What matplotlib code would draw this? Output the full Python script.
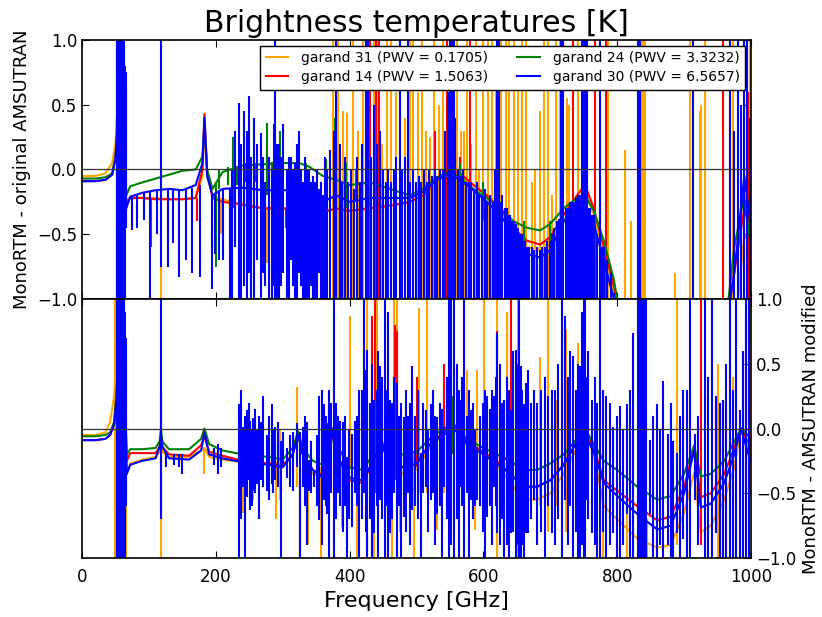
import matplotlib
matplotlib.use('Agg')
import matplotlib.pyplot as plt

# noms et couleurs des profils
labels = ['garand 31 (PWV = 0.1705)', 'garand 14 (PWV = 1.5063)',
          'garand 24 (PWV = 3.3232)', 'garand 30 (PWV = 6.5657)']
colors = ['#FFA500', '#FF0000', '#008000', '#0000FF']

# ---- panneau du haut : MonoRTM - original AMSUTRAN ----
top_f = [0, 20, 35, 45, 50, 54, 57, 66, 72, 90, 110, 130, 150, 170, 180, 183, 187, 195, 210, 240,
         270, 300, 325, 340, 360, 380, 400, 430, 460, 490, 510, 530, 550, 565, 585, 605, 625, 645,
         665, 685, 700, 720, 740, 752, 765, 780, 795, 810, 960, 975, 990, 1000]
top_orange = [-0.05, -0.05, -0.03, 0.05, 0.2, 0.6, 1.3, -0.3, -0.21, -0.22, -0.22, -0.23, -0.23, -0.22,
              -0.05, 0.35, -0.05, -0.2, -0.23, -0.27, -0.3, -0.3, -0.3, -0.32, -0.33, -0.3, -0.32, -0.3,
              -0.28, -0.25, -0.2, -0.08, 0.0, -0.03, -0.12, -0.2, -0.3, -0.5, -0.6, -0.62, -0.55, -0.4,
              -0.25, -0.15, -0.35, -0.65, -0.95, -1.3, -1.3, -1.3, -0.5, -0.6]
top_red = [-0.09, -0.09, -0.08, -0.04, 0.1, 0.45, 1.3, -0.25, -0.22, -0.22, -0.23, -0.23, -0.23, -0.22,
           0.0, 0.43, 0.0, -0.22, -0.25, -0.27, -0.3, -0.3, -0.3, -0.32, -0.33, -0.3, -0.32, -0.3,
           -0.28, -0.25, -0.2, -0.08, 0.0, -0.03, -0.12, -0.2, -0.3, -0.45, -0.55, -0.58, -0.52, -0.35,
           -0.2, -0.12, -0.3, -0.6, -0.9, -1.3, -1.3, -0.8, -0.3, -0.5]
top_green = [-0.07, -0.07, -0.06, -0.03, 0.1, 0.4, 1.3, -0.2, -0.13, -0.1, -0.07, -0.04, -0.01, 0.0,
             0.1, 0.35, 0.0, -0.15, -0.02, 0.03, 0.04, 0.05, 0.05, 0.02, -0.05, -0.08, -0.12, -0.1,
             -0.15, -0.2, -0.15, -0.06, -0.02, -0.06, -0.15, -0.22, -0.3, -0.4, -0.45, -0.47, -0.42,
             -0.3, -0.22, -0.2, -0.32, -0.55, -0.85, -1.3, -1.3, -0.6, -0.2, -0.6]
top_blue = [-0.09, -0.09, -0.08, -0.04, 0.08, 0.4, 1.3, -0.3, -0.21, -0.18, -0.16, -0.15, -0.16, -0.12,
            0.05, 0.4, -0.05, -0.2, -0.15, -0.14, -0.16, -0.16, -0.16, -0.2, -0.25, -0.2, -0.25, -0.22,
            -0.22, -0.22, -0.17, -0.08, -0.04, -0.08, -0.16, -0.25, -0.35, -0.5, -0.65, -0.68, -0.62,
            -0.4, -0.3, -0.28, -0.42, -0.7, -1.0, -1.3, -1.3, -0.8, -0.05, -0.45]

# raies (frequence, bas, haut)
top_orange_lines = [(52, -1.3, 1.3), (54, -1.3, 1.3), (56, -1.3, 1.3), (118, -1.3, 1.3),
    (207, -0.5, -0.23), (270, -0.72, -0.3), (276, -0.72, -0.3),
    (375, -1.3, 1.3), (383, -1.3, 1.3), (390, -1.3, 0.45), (396, -1.3, 0.44), (405, -1.3, 1.3),
    (412, -1.3, 0.3), (420, -1.3, 1.3), (428, -1.3, 1.3), (436, -1.3, 1.3), (441, -1.3, 1.3),
    (449, -1.3, 0.2), (456, -1.3, 1.3), (462, -1.3, 1.3), (470, -1.3, 0.6), (476, -1.3, 1.3),
    (483, -1.3, 0.4), (490, -1.3, 1.3), (495, -1.3, 1.3), (502, -1.3, 0.6), (508, -1.3, 1.3),
    (514, -1.3, 0.3), (520, -1.3, 0.25), (526, -1.3, 1.3), (533, -1.3, 0.5), (540, -1.3, 1.3),
    (546, -1.3, 1.3), (560, -1.3, 1.3), (566, -1.3, 0.3), (571, -1.3, 0.3), (576, -1.3, 1.3),
    (582, -1.3, 0.2), (589, -1.3, 1.3), (594, -1.3, 0.0), (600, -1.3, 1.3), (607, -1.3, 1.3),
    (613, -1.3, 1.3), (619, -1.3, 0.6), (627, -1.3, 1.3), (634, -1.3, 1.3), (638, -1.3, 1.3),
    (645, -1.3, 1.3), (651, -1.3, 0.7), (657, -1.3, 1.3), (664, -1.3, 1.3), (672, -1.3, -0.1),
    (677, -1.3, 0.0), (684, -1.3, 0.45), (690, -1.3, 1.3), (697, -1.3, 1.3), (702, -1.3, -0.2),
    (709, -1.3, 1.3), (715, -1.3, 1.3), (725, -1.3, 0.55), (728, -1.3, 0.5), (734, -1.3, 1.3),
    (742, -1.3, 1.3), (767, -1.3, 1.3), (787, -1.3, 1.3), (812, -1.3, 0.15), (820, -1.3, -0.4),
    (836, -1.3, 1.3), (838, -1.3, 1.3), (840, -1.3, 1.3), (842, -1.3, 1.3), (886, -1.3, -0.8),
    (909, -1.3, 1.3), (924, -1.3, 0.45), (926, -1.3, 0.5), (931, -1.3, 1.3), (958, -1.3, 1.3),
    (973, -1.3, 1.3), (999, -1.3, 1.3)]
top_red_lines = [(74, -0.45, -0.22), (103, -0.6, -0.22), (128, -0.5, -0.23), (172, -0.4, -0.22),
    (228, -0.55, -0.25), (305, -0.45, -0.3), (350, -0.5, -0.32), (430, -1.3, 1.3), (440, -1.3, 1.3),
    (444, -1.3, 1.3), (528, -1.3, 0.3), (546, -1.3, 1.3), (550, -1.3, 1.3), (565, -1.3, 0.1),
    (580, -1.3, 1.3), (717, -1.3, 1.3), (734, -1.3, 1.3), (767, -1.3, 1.3), (784, -1.3, 1.3),
    (958, -1.3, 1.3), (968, -1.3, 1.3), (995, -1.3, 0.6)]
top_green_lines = [(200, -0.75, -0.1), (205, -0.15, 0.0), (218, -0.12, 0.02), (226, -0.3, 0.25),
    (232, -0.12, 0.03), (245, -0.1, 0.05), (258, -0.1, 0.05), (271, -0.1, 0.06), (276, -0.2, 0.36),
    (284, -0.1, 0.06), (296, -0.1, 0.3), (311, -0.12, 0.07), (325, -0.15, 0.05), (335, -0.12, 0.05),
    (365, -0.2, 0.08), (378, -0.3, 0.4), (395, -0.3, 0.05), (410, -0.25, 0.0), (553, -0.2, 0.2),
    (565, -0.15, 0.05), (600, -0.4, -0.1), (660, -0.6, -0.4), (700, -0.6, -0.4)]
top_blue_lines = [(52, -1.3, 1.3), (53, -1.3, 1.3), (55, -1.3, 1.3), (56, -1.3, 1.3), (57, -1.3, 1.3),
    (58, -1.3, 1.3), (59, -1.3, 1.3), (60, -1.3, 1.3), (61, -1.3, 1.3), (62, -1.3, 1.3),
    (63, -1.3, 0.95), (64, -1.3, 0.8), (65, -0.45, 0.75), (66, -0.45, 0.6),
    (74, -0.47, -0.2), (82, -0.45, -0.19), (92, -0.39, -0.18), (102, -1.3, -0.17), (112, -0.5, -0.16),
    (118, -0.75, 1.3), (128, -0.75, -0.15), (136, -0.57, -0.15), (145, -0.83, -0.15), (155, -0.7, -0.15),
    (165, -0.8, -0.14), (176, -0.83, -0.12), (194, -0.92, -0.2), (199, -0.65, -0.18), (204, -0.7, -0.17),
    (210, -0.7, -0.16), (221, -1.3, -0.15), (224, -1.3, 0.0), (228, -0.6, 0.3), (234, -1.3, 0.51),
    (238, -1.3, 0.2), (242, -0.9, 0.45), (247, -1.3, 0.3), (250, -0.8, 0.57), (253, -1.1, 0.1),
    (257, -1.3, 0.4), (262, -0.7, 0.2), (267, -1.3, 0.28), (270, -0.8, 0.1), (273, -0.9, -0.1),
    (280, -1.3, 0.1), (284, -1.3, 0.0), (287, -0.9, 0.35), (289, -1.3, 1.3), (291, -1.0, 0.2),
    (295, -1.3, 0.2), (298, -0.9, 0.1), (301, -0.8, 0.35), (306, -1.3, 0.0), (309, -1.3, 0.1),
    (313, -0.7, 0.1), (316, -0.9, 0.0), (318, -1.3, 0.05), (321, -1.3, 0.2), (325, -0.8, 0.3),
    (328, -0.9, 0.0), (330, -1.3, -0.1), (333, -1.0, 0.1), (336, -1.3, 0.0), (339, -1.3, 0.0),
    (342, -0.9, -0.1), (345, -1.3, -0.05), (348, -1.3, -0.1), (351, -1.3, 0.0), (354, -0.8, -0.15),
    (357, -1.0, -0.1), (360, -1.3, -0.2), (363, -1.3, 0.1), (366, -1.3, 0.0), (371, -1.3, 0.15),
    (376, -1.3, 0.3), (380, -1.3, 1.3),
    (385, -1.3, 0.2), (389, -1.3, -0.1), (393, -1.3, 0.1), (398, -1.3, -0.1), (402, -1.3, 0.0),
    (406, -1.3, -0.15), (411, -1.3, 0.1), (415, -1.3, -0.1), (419, -1.3, 0.2), (424, -1.3, 1.3),
    (428, -1.3, 1.3), (432, -1.3, 0.1), (437, -1.3, 0.5), (441, -1.3, 0.2), (446, -1.3, 0.3),
    (450, -1.3, 0.0), (454, -1.3, -0.1), (458, -1.3, 0.0), (462, -1.3, -0.1), (466, -1.3, 0.0),
    (470, -1.3, 0.1), (475, -1.3, 1.3), (479, -1.3, 0.0), (483, -1.3, 0.1), (487, -1.3, 1.3),
    (491, -1.3, -0.1), (495, -1.3, 0.0), (499, -1.3, -0.1), (503, -1.3, -0.05), (507, -1.3, -0.1),
    (511, -1.3, 0.0), (515, -1.3, -0.1), (519, -1.3, 0.0), (523, -1.3, -0.05), (527, -1.3, 0.0),
    (531, -1.3, -0.05), (535, -1.3, 0.0), (539, -1.3, 0.0), (543, -1.3, 0.3), (547, -1.3, 0.6),
    (550, -1.3, 1.3), (552, -1.3, 1.3), (554, -1.3, 1.3), (556, -1.3, 1.3), (558, -1.3, 0.4),
    (562, -1.3, 0.0), (566, -1.3, -0.05), (570, -1.3, 0.0), (574, -1.3, -0.1), (578, -1.3, -0.1),
    (582, -1.3, -0.1), (586, -1.3, -0.15), (590, -1.3, -0.1), (594, -1.3, -0.2), (598, -1.3, -0.2),
    (602, -1.3, -0.15), (606, -1.3, -0.25), (610, -1.3, -0.2), (614, -1.3, -0.25), (618, -1.3, 0.0),
    (621, -1.3, 1.3), (624, -1.3, 1.3), (626, -1.3, -0.25), (628, -1.3, -0.2), (632, -1.3, -0.3),
    (634, -1.3, -0.32), (636, -1.3, -0.3), (638, -1.3, -0.35), (640, -1.3, -0.35), (643, -1.3, -0.4),
    (645, -1.3, -0.4), (648, -1.3, -0.42), (650, -1.3, -0.45), (652, -1.3, -0.45), (655, -1.3, -0.5),
    (658, -1.3, -0.5), (660, -1.3, -0.55), (662, -1.3, -0.55), (665, -1.3, -0.6), (668, -1.3, -0.6),
    (672, -1.3, -0.6), (676, -1.3, -0.62), (680, -1.3, -0.6), (684, -1.3, -0.62), (688, -1.3, -0.6),
    (692, -1.3, -0.6), (695, -1.3, -0.55), (699, -1.3, -0.55), (703, -1.3, -0.5), (706, -1.3, -0.45),
    (710, -1.3, -0.4), (713, -1.3, -0.38), (716, -1.3, 1.3), (719, -1.3, 1.3), (724, -1.3, -0.3),
    (727, -1.3, -0.3), (730, -1.3, -0.25), (733, -1.3, -0.25), (736, -1.3, -0.25), (739, -1.3, -0.22),
    (742, -1.3, -0.2), (745, -1.3, -0.2), (747, -1.3, 1.3), (749, -1.3, 1.3), (751, -1.3, 1.3),
    (753, -1.3, 1.3), (755, -1.3, 1.3), (757, -1.3, -0.3), (760, -1.3, -0.3), (763, -1.3, -0.35),
    (766, -1.3, -0.35), (770, -1.3, -0.5), (774, -1.3, 1.3), (777, -1.3, -0.6), (780, -1.3, -0.6),
    (785, -1.3, -0.7), (790, -1.3, -0.8), (795, -1.3, -0.95), (831, -1.3, 1.3), (834, -1.3, 1.3),
    (913, -1.3, 1.3), (969, -1.3, 1.3), (975, -1.3, 0.3), (980, -1.3, 1.3), (985, -1.3, 0.5),
    (990, -1.3, 1.3), (994, -1.3, 1.3), (998, -1.3, 0.4)]

# ---- panneau du bas : MonoRTM - AMSUTRAN modified ----
bot_f = [0, 20, 35, 42, 48, 52, 56, 67, 72, 90, 110, 116, 118, 120, 130, 160, 178, 183, 190, 210,
         240, 280, 300, 315, 323, 330, 345, 360, 370, 375, 380, 400, 420, 435, 448, 460, 480, 500, 520,
         540, 556, 575, 600, 620, 640, 660, 680, 700, 720, 740, 752, 765, 780, 800, 830, 860, 880, 900,
         915, 925, 940, 960, 975, 985, 995, 1000]
bot_orange = [-0.05, -0.05, -0.03, 0.05, 0.25, 0.6, 1.3, -0.35, -0.27, -0.24, -0.22, -0.18, -0.1, -0.18,
              -0.22, -0.22, -0.17, -0.15, -0.22, -0.24, -0.26, -0.27, -0.28, -0.2, -0.05, -0.2, -0.35,
              -0.38, -0.2, 0.0, -0.2, -0.38, -0.4, -0.25, -0.12, -0.3, -0.35, -0.32, -0.15, -0.05, 0.02,
              -0.12, -0.2, -0.28, -0.42, -0.55, -0.55, -0.5, -0.35, -0.15, -0.05, -0.2, -0.6, -0.7,
              -0.85, -0.92, -0.9, -0.65, -0.34, -0.8, -0.75, -0.55, -0.3, 0.0, -0.15, -0.25]
bot_red = [-0.09, -0.09, -0.08, -0.05, 0.05, 0.3, 1.3, -0.25, -0.19, -0.19, -0.19, -0.14, -0.05, -0.14,
           -0.2, -0.21, -0.13, -0.06, -0.18, -0.21, -0.25, -0.27, -0.29, -0.2, -0.05, -0.2, -0.32,
           -0.36, -0.2, 0.0, -0.2, -0.4, -0.42, -0.25, -0.12, -0.27, -0.3, -0.27, -0.12, -0.03, 0.03,
           -0.1, -0.18, -0.25, -0.35, -0.45, -0.45, -0.4, -0.28, -0.1, -0.02, -0.15, -0.4, -0.48,
           -0.6, -0.71, -0.68, -0.45, -0.15, -0.53, -0.5, -0.35, -0.15, 0.0, -0.1, -0.15]
bot_green = [-0.06, -0.06, -0.05, -0.03, 0.05, 0.3, 1.3, -0.2, -0.16, -0.16, -0.15, -0.1, 0.0, -0.1,
             -0.16, -0.16, -0.08, 0.0, -0.12, -0.17, -0.2, -0.22, -0.24, -0.15, -0.02, -0.15, -0.25,
             -0.28, -0.1, 0.0, -0.12, -0.3, -0.32, -0.2, -0.1, -0.2, -0.2, -0.18, -0.08, 0.0, 0.03,
             -0.08, -0.15, -0.2, -0.25, -0.32, -0.32, -0.27, -0.2, -0.08, 0.0, -0.12, -0.25, -0.32,
             -0.45, -0.55, -0.52, -0.35, -0.13, -0.37, -0.35, -0.25, -0.1, 0.0, -0.05, -0.1]
bot_blue = [-0.09, -0.09, -0.08, -0.05, 0.03, 0.25, 1.3, -0.35, -0.28, -0.25, -0.23, -0.14, -0.05, -0.14,
            -0.23, -0.24, -0.17, -0.03, -0.2, -0.23, -0.26, -0.28, -0.3, -0.2, -0.05, -0.2, -0.32,
            -0.38, -0.2, 0.0, -0.2, -0.38, -0.4, -0.25, -0.12, -0.27, -0.3, -0.27, -0.12, -0.05, 0.0,
            -0.12, -0.2, -0.27, -0.35, -0.45, -0.45, -0.4, -0.28, -0.1, -0.05, -0.18, -0.42, -0.52,
            -0.66, -0.78, -0.75, -0.5, -0.17, -0.61, -0.58, -0.42, -0.2, 0.0, -0.18, -0.25]

bot_orange_lines = [(50, -1.3, 1.3), (52, -1.3, 1.3), (54, -1.3, 1.3), (65, -1.3, -0.3), (118, -1.3, 0.3),
    (183, -0.35, -0.15), (241, -0.65, -0.25), (255, -0.55, -0.25), (290, -0.7, -0.25), (296, -0.55, 0.0),
    (321, -0.45, 0.32), (326, -1.3, -0.3), (338, -0.9, -0.3), (357, -1.3, -0.3), (388, -0.76, -0.3),
    (401, -0.3, 0.87), (411, -1.3, -0.35), (421, -0.5, 1.3), (426, -1.3, 1.3), (433, -0.6, 0.87),
    (436, -1.3, -0.2), (438, -0.5, 0.6), (441, -0.6, 1.3), (463, -1.3, -0.2), (466, -0.5, 1.3),
    (471, -0.4, 1.3), (476, -0.8, -0.2), (496, -1.3, -0.2), (503, -0.5, 0.93), (516, -0.5, 1.3),
    (531, -0.78, -0.1), (541, -0.5, 0.48), (576, -0.4, 0.45), (588, -0.78, -0.1), (591, -0.5, 0.45),
    (601, -0.6, 1.3), (621, -1.3, 1.3), (636, -0.6, 0.9), (651, -1.3, 1.3), (684, -0.6, 0.55),
    (697, -0.8, 1.3), (709, -0.6, 0.22), (724, -0.8, 0.76), (742, -0.7, 0.66), (749, -0.5, 0.69),
    (779, -1.3, -0.3), (800, -1.3, -0.5), (815, -1.3, -0.6), (845, -1.3, -0.7), (860, -1.3, -0.75),
    (889, -0.9, 1.3), (909, -0.9, 0.86), (951, -1.3, 0.5), (973, -0.8, 0.4), (998, -0.5, 1.3)]
bot_red_lines = [(118, -0.7, 0.3), (326, -1.3, -0.3), (433, -0.3, 0.87), (438, -0.5, 1.3), (468, -0.4, 0.8),
    (471, -0.5, 0.75), (501, -0.3, 0.4), (541, -0.4, 0.5), (571, -0.3, 0.35), (621, -0.6, 0.75),
    (641, -0.5, 1.3), (717, -0.3, 0.35), (739, -0.3, 0.25), (926, -0.9, 1.3), (958, -1.3, 0.2),
    (993, -0.5, 0.85)]
bot_green_lines = [(380, -0.2, 0.2), (448, -0.2, 0.3), (470, -0.3, 0.35), (555, -0.2, 0.25)]
bot_blue_lines = [(52, -1.3, 1.3), (53, -1.3, 1.3), (55, -1.3, 1.3), (56, -1.3, 1.3), (57, -1.3, 1.3),
    (58, -1.3, 1.3), (59, -1.3, 1.3), (60, -1.3, 1.3), (61, -1.3, 1.3), (62, -1.3, 1.3), (63, -1.3, 1.3),
    (64, -1.3, 0.9), (65, -0.6, 0.7), (66, -0.5, 0.5),
    (118, -0.7, 1.3), (125, -0.3, -0.18), (137, -0.28, -0.2), (145, -0.3, -0.2), (150, -0.35, -0.2),
    (198, -0.28, -0.15), (203, -0.35, -0.12), (208, -0.3, -0.15),
    (234, -1.3, 0.19), (237, -0.7, 0.3), (241, -0.45, 0.01), (244, -1.3, 0.1), (246, -0.53, 0.14),
    (249, -0.4, 0.2), (251, -0.63, 0.06), (254, -0.6, 0.0), (256, -0.48, 0.08), (259, -0.5, 0.15),
    (261, -0.43, -0.01), (265, -0.7, 0.1), (268, -0.4, 0.05), (271, -0.45, 0.25), (276, -0.48, -0.05),
    (280, -0.55, 0.1), (284, -0.43, 0.19), (286, -0.5, 0.0), (289, -0.4, 0.01), (293, -0.45, 0.05),
    (298, -1.3, -0.1), (301, -0.28, -0.03), (306, -0.38, -0.15), (311, -0.45, -0.05), (316, -0.48, -0.03),
    (321, -0.3, 0.04), (326, -1.3, -0.03), (330, -0.45, 0.01), (334, -0.6, 0.1), (337, -0.9, 0.05),
    (340, -0.48, -0.24), (343, -0.5, -0.1), (347, -0.45, -0.32), (351, -0.6, -0.05), (354, -0.71, 0.25),
    (358, -0.9, 0.3), (361, -0.55, 0.19), (364, -0.6, 0.1), (366, -0.66, 0.04), (369, -1.3, 0.3),
    (372, -0.5, 0.2), (376, -1.3, 1.3), (380, -0.7, 0.2), (383, -0.5, 0.1), (386, -0.6, 0.06),
    (390, -0.8, 0.05), (393, -0.6, 0.1), (396, -1.3, -0.22), (399, -0.7, 0.0), (403, -0.76, -0.04),
    (408, -0.5, 0.06), (411, -0.6, 0.1), (414, -1.3, 0.3), (418, -0.7, 0.3), (421, -0.5, 1.3),
    (424, -0.8, 0.45), (426, -1.3, 0.61), (430, -0.7, 0.2), (433, -1.3, 0.5), (436, -0.81, 0.22),
    (441, -0.6, 0.3), (443, -1.3, 0.6), (446, -0.55, 0.48), (449, -0.7, 0.4), (453, -1.3, 1.3),
    (456, -0.6, 0.3), (458, -1.3, 0.9), (461, -0.81, 0.22), (464, -0.7, 0.2), (467, -0.5, 0.4),
    (471, -1.3, 0.35), (474, -0.6, 0.1), (477, -1.3, 0.2), (481, -0.68, 0.09), (485, -0.8, 0.3),
    (488, -0.5, 0.1), (491, -0.9, 0.2), (494, -0.63, 0.48), (498, -0.6, 0.1), (502, -0.7, 0.3),
    (506, -1.3, -0.19), (510, -0.5, 0.2), (514, -0.45, 0.14), (517, -0.8, 0.0), (521, -0.55, 0.19),
    (525, -0.5, 0.3), (528, -0.9, 0.1), (531, -0.66, 0.09), (535, -0.6, 0.2), (538, -1.3, 0.15),
    (541, -0.45, 0.01), (545, -0.7, 0.4), (549, -1.3, 1.3), (552, -0.9, 1.3), (556, -1.3, 1.3),
    (560, -0.7, 0.5), (563, -1.3, 0.3), (566, -0.45, 0.22), (568, -0.6, 0.4), (571, -1.3, 1.3),
    (575, -0.5, 0.1), (578, -1.3, 0.3), (581, -0.55, 0.14), (585, -0.7, 0.2), (588, -0.6, 0.0),
    (591, -0.55, -0.14), (595, -0.6, 0.1), (600, -0.8, 0.2), (603, -1.3, 0.3), (606, -0.68, 0.25),
    (610, -0.6, 0.15), (613, -0.9, 0.3), (616, -0.45, 0.25), (619, -0.6, 0.4), (621, -0.81, 0.74),
    (625, -0.9, 0.5), (628, -0.7, 0.2), (631, -1.3, 0.22), (635, -0.9, 0.4), (638, -1.3, 0.3),
    (641, -0.81, 0.14), (644, -0.8, 0.6), (648, -1.3, 0.61), (651, -0.9, 0.5), (653, -1.3, 1.3),
    (656, -1.3, 0.48), (658, -0.9, 0.3), (660, -1.3, 0.19), (663, -0.81, 0.35), (667, -0.81, 0.45),
    (671, -0.7, 0.2), (675, -0.55, 0.3), (680, -0.9, 0.2), (686, -0.8, 0.3), (692, -1.3, 0.4),
    (697, -0.6, 0.25), (702, -0.81, 0.3), (707, -0.9, 0.3), (712, -0.7, 0.5), (717, -1.3, 1.3),
    (722, -0.55, 0.87), (727, -0.9, 0.4), (730, -0.6, 0.6), (734, -1.3, 0.56), (738, -0.8, 0.3),
    (741, -1.3, 0.5), (744, -1.3, 0.48), (748, -0.9, 0.9), (750, -1.3, 1.3), (752, -1.3, 1.3),
    (754, -0.55, 0.4), (757, -0.7, 0.6), (762, -0.81, 0.22), (767, -0.9, 0.4), (770, -1.3, 0.2),
    (774, -1.3, 1.3), (779, -0.8, 0.3), (784, -1.3, 0.25), (789, -0.9, 0.2), (794, -0.81, 0.01),
    (799, -1.3, 0.1), (804, -1.3, 0.17), (809, -0.9, 0.0), (814, -0.66, 0.19), (819, -1.3, 0.3),
    (824, -1.3, 0.74), (831, -1.3, 1.3), (834, -1.3, 1.3), (837, -1.3, 1.3), (840, -1.3, 1.3),
    (843, -1.3, 1.3), (849, -0.66, -0.09), (853, -1.3, 0.1), (859, -1.3, 0.19), (864, -0.9, 0.0),
    (869, -1.3, 0.37), (876, -0.9, -0.04), (880, -1.3, 0.2), (884, -1.0, -0.1), (889, -0.81, -0.19),
    (894, -1.3, 0.1), (899, -0.85, 0.3), (904, -1.3, 0.3), (909, -1.3, 1.3), (916, -0.55, -0.04),
    (921, -0.9, 0.1), (931, -1.3, 1.3), (936, -1.3, 0.4), (941, -1.3, 1.3), (948, -0.81, 0.25),
    (953, -1.3, 0.2), (958, -1.3, 0.22), (963, -1.3, 0.5), (968, -1.3, 1.3), (973, -1.3, 0.3),
    (978, -1.3, 1.3), (983, -1.3, 0.14), (988, -1.3, 0.6), (993, -1.3, 1.3), (997, -1.3, 1.3)]

fig, (ax1, ax2) = plt.subplots(2, 1, sharex=True, figsize=(8.22, 6.17), dpi=100)
fig.subplots_adjust(left=0.0998, right=0.9136, top=0.9352, bottom=0.0956, hspace=0)

lw = 1.5
top_series = [(top_orange, top_orange_lines), (top_red, top_red_lines),
              (top_green, top_green_lines), (top_blue, top_blue_lines)]
bot_series = [(bot_orange, bot_orange_lines), (bot_red, bot_red_lines),
              (bot_green, bot_green_lines), (bot_blue, bot_blue_lines)]

handles = []
for (vals, raies), c, lab in zip(top_series, colors, labels):
    h, = ax1.plot(top_f, vals, color=c, lw=lw, label=lab)
    handles.append(h)
    f, lo, hi = zip(*raies)
    ax1.vlines(f, lo, hi, color=c, lw=lw)

for (vals, raies), c in zip(bot_series, colors):
    ax2.plot(bot_f, vals, color=c, lw=lw)
    f, lo, hi = zip(*raies)
    ax2.vlines(f, lo, hi, color=c, lw=lw)

for ax in (ax1, ax2):
    ax.axhline(0, color='#333333', lw=0.9, zorder=5)
    ax.set_xlim(0, 1000)
    ax.set_ylim(-1, 1)
    ax.set_yticks([-1.0, -0.5, 0.0, 0.5, 1.0])
    ax.set_xticks([0, 200, 400, 600, 800, 1000])
    ax.tick_params(direction='in', length=5, labelsize=12, top=True)
    for s in ax.spines.values():
        s.set_linewidth(1.2)

ax1.tick_params(right=True, labelbottom=False)
ax2.yaxis.tick_right()
ax2.yaxis.set_label_position('right')
ax2.tick_params(left=False, right=True, direction='in', length=5)
ax2.tick_params(axis='x', pad=7)

ax1.set_ylabel('MonoRTM - original AMSUTRAN', fontsize=13)
ax2.set_ylabel('MonoRTM - AMSUTRAN modified', fontsize=13)
ax2.set_xlabel('Frequency [GHz]', fontsize=16)
ax1.set_title('Brightness temperatures [K]', fontsize=21.5)

leg = ax1.legend(handles=handles, loc='upper right', ncol=2, fontsize=10, fancybox=False,
                 edgecolor='black', framealpha=1, borderaxespad=0.4, columnspacing=2.1,
                 handlelength=1.6, handletextpad=0.95, borderpad=0.4, labelspacing=0.35)
leg.get_frame().set_linewidth(1.0)
leg.set_zorder(10)

plt.savefig('out.png')
